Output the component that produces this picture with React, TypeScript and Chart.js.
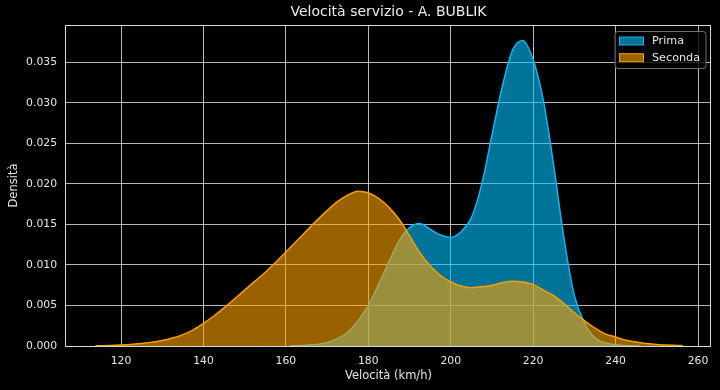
import { useEffect, useRef } from 'react';
import { Chart, registerables } from 'chart.js';

Chart.register(...registerables);

// ---- data ----
const primaSpeeds = [161, 162.5, 165, 167.5, 170, 172.5, 175, 177.5, 180, 182.5, 185, 187.5, 190, 192.5, 195, 197.5, 200, 202.5, 205, 207.5, 210, 212.5, 215, 217.5, 220, 222.5, 225, 227.5, 230, 232.5, 235, 237.5, 240, 242.5, 245, 246];
const primaDensity = [0.00001, 0.00003, 0.0001, 0.0002, 0.0004, 0.0009, 0.0017, 0.0031, 0.005, 0.0076, 0.0104, 0.013, 0.0146, 0.0151, 0.0144, 0.0137, 0.0134, 0.0141, 0.0158, 0.0199, 0.026, 0.032, 0.0365, 0.0377, 0.0353, 0.0302, 0.0222, 0.0132, 0.0062, 0.0028, 0.001, 0.0004, 0.00015, 0.00005, 0.00001, 0];

const secondaSpeeds = [113.8, 115, 117.5, 120, 122.5, 125, 127.5, 130, 132.5, 135, 137.5, 140, 142.5, 145, 147.5, 150, 152.5, 155, 157.5, 160, 162.5, 165, 167.5, 170, 172.5, 175, 177.5, 180, 182.5, 185, 187.5, 190, 192.5, 195, 197.5, 200, 202.5, 205, 207.5, 210, 212.5, 215, 217.5, 220, 222.5, 225, 227.5, 230, 232.5, 235, 237.5, 240, 242.5, 245, 247.5, 250, 252.5, 255, 256.3];
const secondaDensity = [0.00002, 0.00003, 0.00006, 0.00012, 0.0002, 0.0003, 0.00045, 0.00068, 0.00098, 0.0014, 0.002, 0.0028, 0.0037, 0.0047, 0.0058, 0.0069, 0.008, 0.0091, 0.0103, 0.0116, 0.0129, 0.0142, 0.0155, 0.0167, 0.0178, 0.0186, 0.0191, 0.0189, 0.0182, 0.0171, 0.0156, 0.0136, 0.0115, 0.0099, 0.0087, 0.0079, 0.0074, 0.0072, 0.0073, 0.0075, 0.0078, 0.008, 0.0079, 0.0076, 0.0069, 0.0062, 0.0052, 0.0041, 0.0031, 0.0022, 0.0015, 0.0011, 0.0007, 0.0005, 0.0003, 0.0002, 0.00012, 0.00007, 0.00004];

const seriesLabels = ['Prima', 'Seconda'];
const titleText = 'Velocità servizio - A. BUBLIK';
const xTitle = 'Velocità (km/h)';
const yTitle = 'Densità';
const xRange = [106.65, 263.15];
const yRange = [0, 0.0396];
const xStep = 20;
const yStep = 0.005;

const FONT = '"DejaVu Sans", sans-serif';

const spinePlugin = {
  id: 'spines',
  afterDatasetsDraw(chart: any) {
    const { ctx, chartArea } = chart;
    const { left, right, top, bottom } = chartArea;
    ctx.save();
    ctx.strokeStyle = '#d9d9d9';
    ctx.lineWidth = 1;
    ctx.strokeRect(Math.round(left) - 0.5, Math.round(top) + 0.5, Math.round(right) - Math.round(left), Math.round(bottom) - Math.round(top));
    ctx.restore();
  },
};

const legendPlugin = {
  id: 'innerLegend',
  afterDraw(chart: any) {
    const { ctx, chartArea } = chart;
    const w = 91;
    const h = 37;
    const x = chartArea.right - 5 - w;
    const y = chartArea.top + 6.5;
    ctx.save();
    ctx.beginPath();
    const r = 3;
    ctx.moveTo(x + r, y);
    ctx.lineTo(x + w - r, y);
    ctx.arcTo(x + w, y, x + w, y + r, r);
    ctx.lineTo(x + w, y + h - r);
    ctx.arcTo(x + w, y + h, x + w - r, y + h, r);
    ctx.lineTo(x + r, y + h);
    ctx.arcTo(x, y + h, x, y + h - r, r);
    ctx.lineTo(x, y + r);
    ctx.arcTo(x, y, x + r, y, r);
    ctx.closePath();
    ctx.fillStyle = 'rgba(0,0,0,0.8)';
    ctx.fill();
    ctx.strokeStyle = '#6e6e6e';
    ctx.lineWidth = 1;
    ctx.stroke();
    chart.data.datasets.forEach((ds: any, i: number) => {
      const ry = y + 5.5 + i * 16.7;
      ctx.fillStyle = ds.backgroundColor;
      ctx.fillRect(x + 4.5, ry, 24, 8);
      ctx.strokeStyle = ds.borderColor;
      ctx.lineWidth = 1;
      ctx.strokeRect(x + 4.5, ry, 24, 8);
      ctx.fillStyle = '#e8e8e8';
      ctx.font = '11.2px ' + FONT;
      ctx.textBaseline = 'middle';
      ctx.textAlign = 'left';
      ctx.fillText(ds.label, x + 37, ry + 4.5);
    });
    ctx.restore();
  },
};

const bgPlugin = {
  id: 'bg',
  beforeDraw(chart: any) {
    const { ctx, width, height } = chart;
    ctx.save();
    ctx.fillStyle = '#000000';
    ctx.fillRect(0, 0, width, height);
    ctx.restore();
  },
};

export default function App() {
  const ref = useRef<HTMLCanvasElement | null>(null);

  useEffect(() => {
    document.body.style.margin = '0';
    document.body.style.background = '#000';
    const canvas = ref.current;
    if (!canvas) return;
    const chart = new Chart(canvas, {
      type: 'line',
      data: {
        datasets: [
          {
            label: seriesLabels[0],
            data: primaSpeeds.map((s, i) => ({ x: s, y: primaDensity[i] })),
            borderColor: '#12b4ee',
            backgroundColor: 'rgba(0,191,255,0.6)',
            borderWidth: 1.5,
            fill: 'origin',
            pointRadius: 0,
            cubicInterpolationMode: 'monotone',
            order: 1,
          },
          {
            label: seriesLabels[1],
            data: secondaSpeeds.map((s, i) => ({ x: s, y: secondaDensity[i] })),
            borderColor: '#f5a000',
            backgroundColor: 'rgba(255,162,0,0.6)',
            borderWidth: 1.5,
            fill: 'origin',
            pointRadius: 0,
            cubicInterpolationMode: 'monotone',
            order: 0,
          },
        ],
      },
      options: {
        responsive: false,
        animation: false,
        devicePixelRatio: 1,
        layout: { padding: { left: 0, right: 9, top: 0, bottom: 0 } },
        plugins: {
          legend: { display: false },
          tooltip: { enabled: false },
          title: {
            display: true,
            text: titleText,
            fullSize: false,
            color: '#ececec',
            font: { family: FONT, size: 14, weight: 'normal', lineHeight: 1.2 },
            padding: { top: 4, bottom: 4.2 },
          },
        },
        scales: {
          x: {
            type: 'linear',
            min: xRange[0],
            max: xRange[1],
            afterFit: (s: any) => { s.height = 44; },
            ticks: {
              stepSize: xStep,
              includeBounds: false,
              color: '#e6e6e6',
              font: { family: FONT, size: 10.8 },
              padding: 8.5,
              maxRotation: 0,
              callback: (v: any) => String(v),
            },
            grid: { color: 'rgba(255,255,255,0.72)', lineWidth: 1, drawTicks: false },
            border: { display: false },
            title: {
              display: true,
              text: xTitle,
              color: '#e6e6e6',
              font: { family: FONT, size: 11.5, lineHeight: 1.2 },
              padding: { top: 0, bottom: 7 },
            },
          },
          y: {
            type: 'linear',
            min: yRange[0],
            max: yRange[1],
            afterFit: (s: any) => { s.width = 66; },
            ticks: {
              stepSize: yStep,
              includeBounds: false,
              color: '#e6e6e6',
              font: { family: FONT, size: 10.8 },
              padding: 9,
              callback: (v: any) => Number(v).toFixed(3),
            },
            grid: { color: 'rgba(255,255,255,0.72)', lineWidth: 1, drawTicks: false },
            border: { display: false },
            title: {
              display: true,
              text: yTitle,
              color: '#e6e6e6',
              font: { family: FONT, size: 11.5, lineHeight: 1.2 },
              padding: { top: 7, bottom: 0 },
            },
          },
        },
      },
      plugins: [bgPlugin, spinePlugin, legendPlugin],
    } as any);
    return () => chart.destroy();
  }, []);

  return <canvas ref={ref} width={720} height={390} style={{ display: 'block' }} />;
}
